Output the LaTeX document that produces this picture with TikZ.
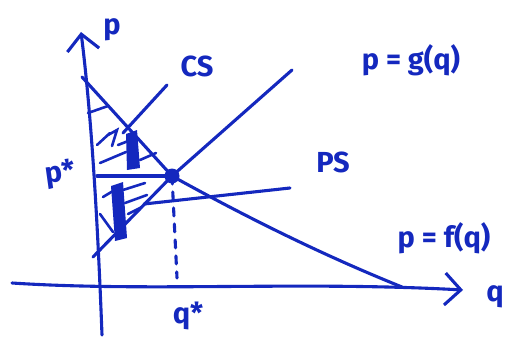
\documentclass[tikz,border=0pt]{standalone}
\usepackage{fontspec}
\setmainfont{Fira Sans}
\usetikzlibrary{arrows.meta}
\definecolor{ink}{RGB}{20,40,190}
\begin{document}
\begin{tikzpicture}[x=1pt,y=-1pt,
  pen/.style={draw=ink, line width=3.1pt, line cap=round, line join=round},
  hatchline/.style={draw=ink, line width=2.6pt, line cap=round},
  barb/.style={-{Straight Barb[length=16pt,width=32pt]}},
  lbl/.style={text=ink, font=\fontsize{29}{30}\selectfont\bfseries, inner sep=0pt},
  dot/.style={circle, fill=ink, minimum size=15pt, inner sep=0pt}]
\useasboundingbox (0,0) rectangle (522,345);
% key points
\coordinate (yb) at (102,335);
\coordinate (yt) at (81,32);
\coordinate (xl) at (12,283);
\coordinate (xr) at (463,290);
\node[dot] (E) at (172,176) {};
\coordinate (dA) at (82,77);
\coordinate (dB) at (402,287);
\coordinate (sA) at (93,257);
\coordinate (sB) at (292,70);
\coordinate (pa) at (97,176);
\coordinate (qd) at (177,278);
\coordinate (cs1) at (123,133);
\coordinate (cs2) at (167,85);
\coordinate (ps1) at (144,204);
\coordinate (ps2) at (290,188);
% axes
\draw[pen,barb] (yb) .. controls (98,230) and (92,120) .. (yt);
\draw[pen,barb] (xl) .. controls (150,292) and (300,281) .. (xr);
% curves
\draw[pen] (dA) -- (E.center) .. controls (255,222) and (330,258) .. (dB);
\draw[pen] (sA) -- (E.center) -- (sB);
\draw[pen] (pa) -- (E.center);
\draw[pen, dash pattern=on 8pt off 8pt] (E.center) -- (qd);
\draw[pen] (cs1) -- (cs2);
\draw[pen] (ps1) -- (ps2);
% hatching CS
\draw[hatchline] (88,113) -- (108,106);
\draw[hatchline] (97,145) -- (110,133);
\draw[hatchline] (108,135) -- (117,130) -- (112,146);
\draw[hatchline] (100,163) -- (126,152);
\draw[hatchline] (118,145) -- (136,138);
\draw[hatchline] (140,160) -- (156,153);
\fill[ink] (126,134) -- (137,130) -- (140,168) -- (127,170) -- cycle;
% hatching PS
\draw[hatchline] (103,197) -- (118,188);
\draw[hatchline] (123,190) -- (145,183);
\draw[hatchline] (125,203) -- (147,195);
\draw[hatchline] (128,214) -- (142,207);
\draw[hatchline] (100,214) -- (113,232);
\fill[ink] (111,186) -- (123,182) -- (127,238) -- (115,241) -- cycle;
% labels
\node[lbl] (lp) at (112,30) {p};
\node[lbl] (lcs) at (197,66) {CS};
\node[lbl] (lg) at (411,60) {p = g(q)};
\node[lbl] (lps) at (333,162) {PS};
\node[lbl] (lf) at (444,238) {p = f(q)};
\node[lbl] (lq) at (495,297) {q};
\node[lbl] (lqs) at (188,316) {q*};
\node[lbl, rotate=8] (lps2) at (60,174) {p*};
\end{tikzpicture}
\end{document}
